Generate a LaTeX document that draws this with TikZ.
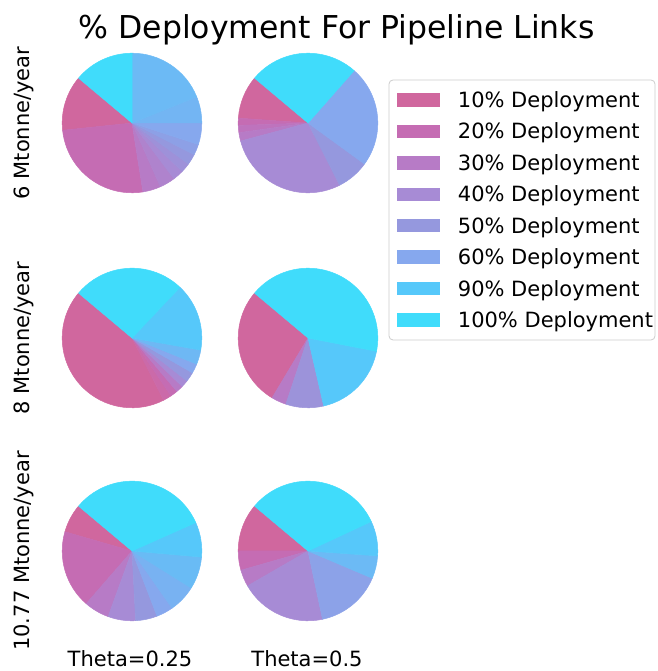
\documentclass[tikz,border=0pt]{standalone}
\usepackage{fontspec}
\setmainfont{DejaVu Sans}
\definecolor{c10}{HTML}{D0679E}
\definecolor{c20}{HTML}{C56CB3}
\definecolor{c30}{HTML}{B77BC6}
\definecolor{c40}{HTML}{A78BD5}
\definecolor{c50}{HTML}{9598DE}
\definecolor{c60}{HTML}{86A8EE}
\definecolor{c90}{HTML}{56C8FA}
\definecolor{c100}{HTML}{40DCFB}
\newcommand\drawpie[2]{%
  \foreach \sa/\ea/\sc in {#2}{%
    \filldraw[fill=\sc, draw=\sc, line width=0.5pt, line join=round]
      (#1) -- ++(\sa:69.8pt) arc[start angle=\sa, end angle=\ea, radius=69.8pt] -- cycle;}}
\begin{document}
\begin{tikzpicture}[x=1pt,y=1pt,
  lbl/.style={font=\fontsize{21}{25}\selectfont, inner sep=0pt},
  ttl/.style={font=\fontsize{31.5}{38}\selectfont, inner sep=0pt},
  patch/.style={minimum width=43pt, minimum height=13.5pt, inner sep=0pt, draw=none},
  legbox/.style={draw=black!20, fill=white, rounded corners=4pt, line width=0.8pt}]
\useasboundingbox (0,0) rectangle (657,671);
% pie centres
\coordinate (P1) at (132,548);
\coordinate (P2) at (308,548);
\coordinate (P3) at (132,333);
\coordinate (P4) at (308,333);
\coordinate (P5) at (132,120);
\coordinate (P6) at (308,120);
% 6 Mtonne/year, Theta=0.25
\drawpie{P1}{140/186/c10, 186/279/c20, 279/294/c30, 294/307/c30!50!c40, 307/316/c40,
  316/324/c40!50!c50, 324/333/c50, 333/342/c50!50!c60, 342/360/c60, 360/382/c60!60!c90,
  382/450/c60!45!c90, 450/500/c100}
% 6 Mtonne/year, Theta=0.5
\drawpie{P2}{140/176/c10, 176/182/c20, 182/188/c20!50!c30, 188/195/c30, 195/297/c40,
  297/324/c50, 324/408.6/c60, 408.6/500/c100}
% 8 Mtonne/year, Theta=0.25
\drawpie{P3}{140/297/c10, 297/304/c10!50!c20, 304/310/c20, 310/316/c30, 316/322/c40,
  322/330/c50, 330/338/c60, 338/350/c60!50!c90, 350/406.6/c90, 406.6/500/c100}
% 8 Mtonne/year, Theta=0.5
\drawpie{P4}{140/239/c10, 239/251.5/c30, 251.5/283/c40!40!c50, 283/349/c90, 349/500/c100}
% 10.77 Mtonne/year, Theta=0.25
\drawpie{P5}{140/164/c10, 164/229/c20, 229/250/c30, 250/273/c40, 273/291/c50, 291/305/c60,
  305/328/c60!70!c90, 328/355/c60!40!c90, 355/384/c90, 384/500/c100}
% 10.77 Mtonne/year, Theta=0.5
\drawpie{P6}{140/180/c10, 180/196/c20, 196/210/c30, 210/282/c40, 282/337/c50!40!c60,
  337/356/c60!45!c90, 356/385/c90, 385/500/c100}
% title
\node[ttl, anchor=base] (title) at (336.5,632) {\% Deployment For Pipeline Links};
% row labels
\node[lbl, rotate=90, anchor=base] (r1) at (29,548) {6 Mtonne/year};
\node[lbl, rotate=90, anchor=base] (r2) at (29,333) {8 Mtonne/year};
\node[lbl, rotate=90, anchor=base] (r3) at (29,120) {10.77 Mtonne/year};
% column labels
\node[lbl, anchor=base] (t1) at (130,5) {Theta=0.25};
\node[lbl, anchor=base] (t2) at (307,5) {Theta=0.5};
% legend
\draw[legbox] (389,591) rectangle (655,331);
\foreach \i/\c/\t in {1/c10/10,2/c20/20,3/c30/30,4/c40/40,5/c50/50,6/c60/60,7/c90/90,8/c100/100}{
  \node[patch, fill=\c] (k\i) at (418.5,{571-(\i-1)*31.43}) {};
  \node[lbl, anchor=base west] (l\i) at (457.7,{563.5-(\i-1)*31.43}) {\t\% Deployment};
}
\end{tikzpicture}
\end{document}
